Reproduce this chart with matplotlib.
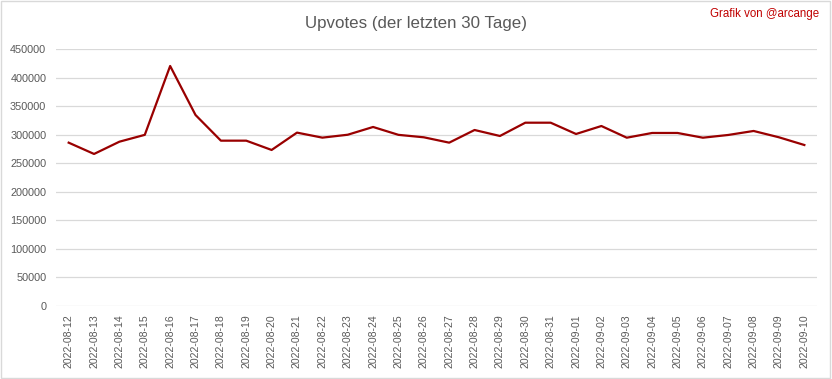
import matplotlib
matplotlib.use("Agg")
import matplotlib.pyplot as plt
from matplotlib.patches import Rectangle

# Daten
dates = ["2022-08-12", "2022-08-13", "2022-08-14", "2022-08-15", "2022-08-16",
         "2022-08-17", "2022-08-18", "2022-08-19", "2022-08-20", "2022-08-21",
         "2022-08-22", "2022-08-23", "2022-08-24", "2022-08-25", "2022-08-26",
         "2022-08-27", "2022-08-28", "2022-08-29", "2022-08-30", "2022-08-31",
         "2022-09-01", "2022-09-02", "2022-09-03", "2022-09-04", "2022-09-05",
         "2022-09-06", "2022-09-07", "2022-09-08", "2022-09-09", "2022-09-10"]
upvotes = [286300, 266500, 288000, 300000, 420700,
           334800, 289800, 289800, 273500, 303900,
           295100, 300200, 313800, 300000, 295700,
           286300, 308500, 298000, 321300, 321300,
           301500, 315500, 295000, 303300, 303300,
           295000, 299800, 306800, 295700, 282200]
yticks = list(range(0, 450001, 50000))

plt.rcParams['font.family'] = ['Liberation Sans', 'DejaVu Sans']
grey = '#595959'

fig = plt.figure(figsize=(8.32, 3.79), dpi=100)
ax = fig.add_axes([0.0673, 0.1926, 0.9147, 0.6774])

x = list(range(len(dates)))
ax.plot(x, upvotes, color='#990000', lw=1.6, solid_joinstyle='round')

ax.set_xlim(-0.5, len(dates) - 0.5)
ax.set_ylim(0, 450000)
ax.set_yticks(yticks)
ax.set_yticklabels([str(v) for v in yticks], fontsize=7.8, color=grey)
ax.set_xticks(x)
ax.set_xticklabels(dates, rotation=90, fontsize=7.6, color=grey)
ax.tick_params(length=0, pad=6)
ax.tick_params(axis='y', pad=7)
ax.grid(axis='y', color='#d9d9d9', lw=0.9)
ax.set_axisbelow(True)
for s in ax.spines.values():
    s.set_visible(False)

fig.text(0.5, 0.937, "Upvotes (der letzten 30 Tage)", ha='center', va='center',
         fontsize=12.2, color=grey)
fig.text(0.985, 0.963, "Grafik von @arcange", ha='right', va='center',
         fontsize=8.3, color='#c00000')

fig.patches.append(Rectangle((0.001, 0.003), 0.997, 0.994, transform=fig.transFigure,
                             fill=False, ec='#d9d9d9', lw=1))

fig.savefig("out.png", dpi=100, facecolor='white')
